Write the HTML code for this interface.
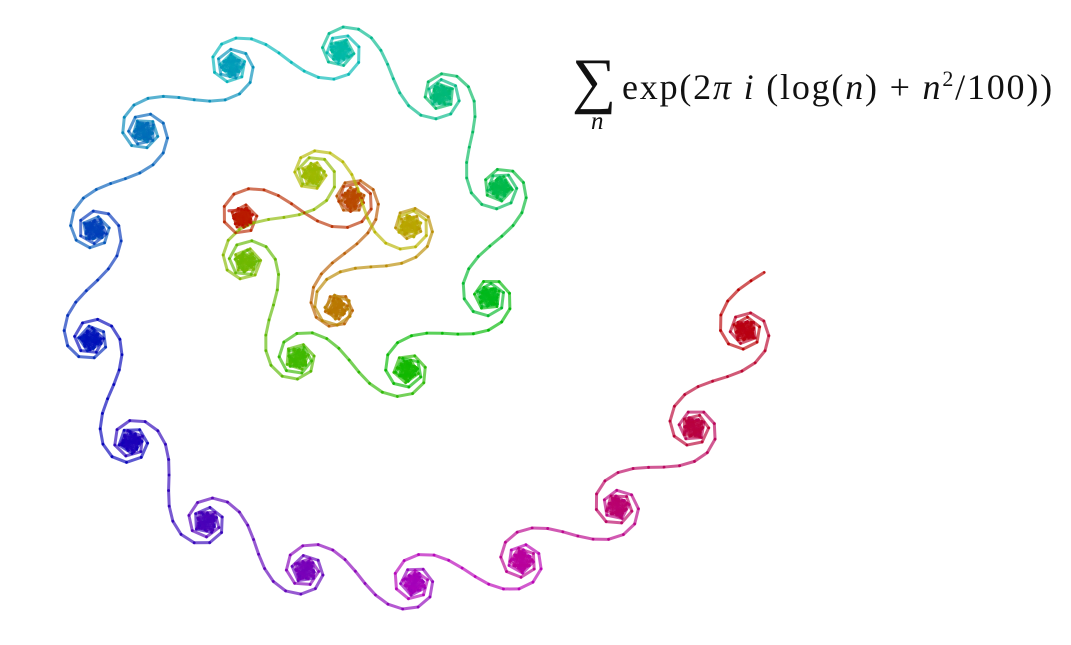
<!DOCTYPE html>
<html><head><meta charset="utf-8">
<style>
html,body{margin:0;padding:0;background:#fff;}
#wrap{position:relative;width:1071px;height:645px;overflow:hidden;}
#formula{position:absolute;left:572px;top:48px;font-family:"Liberation Serif",serif;color:#111;}
#sigma{position:absolute;left:0;top:2px;font-size:62px;line-height:62px;}
#sub{position:absolute;left:19px;top:60px;font-size:25px;font-style:italic;}
#expr{position:absolute;left:50px;top:18px;font-size:36px;letter-spacing:1.8px;white-space:nowrap;}
</style></head>
<body>
<div id="wrap">
<svg id="plot" width="1071" height="645"></svg>
<div id="formula">
 <span id="sigma">∑</span>
 <span id="sub">n</span>
 <span id="expr">exp(2<i>π</i> <i>i</i> (log(<i>n</i>) + <i>n</i><sup style="font-size:22px">2</sup>/100))</span>
</div>
</div>
<script>
// series definition: term count and phase coefficients (log term, quadratic term)
const termCount = [1200];
const logCoef = [1];
const quadCoef = [0.01];
// target region of the curve on screen
const xRange = [58, 775];
const yRange = [27, 609];

const N = termCount[0];
let re = 0, im = 0;
const pts = [[0,0]];
for (let n = 1; n <= N; n++) {
  const ph = 2*Math.PI*(logCoef[0]*Math.log(n) + quadCoef[0]*n*n);
  re += Math.cos(ph); im += Math.sin(ph);
  pts.push([re, im]);
}
const xs = pts.map(p=>p[0]), ys = pts.map(p=>p[1]);
const x0=Math.min(...xs), x1=Math.max(...xs), y0=Math.min(...ys), y1=Math.max(...ys);
const sc = Math.min((xRange[1]-xRange[0])/(x1-x0),(yRange[1]-yRange[0])/(y1-y0));
const cx = (xRange[0]+xRange[1])/2, cy=(yRange[0]+yRange[1])/2;
const mx=(x0+x1)/2, my=(y0+y1)/2;
function X(v){return cx+(v-mx)*sc;}
function Y(v){return cy-(v-my)*sc;}
function hsv(t){
  const h=(t%1)*6, i=Math.floor(h), f=h-i, v=0.72, q=v*(1-f), tt=v*f;
  const c=[[v,tt,0],[q,v,0],[0,v,tt],[0,q,v],[tt,0,v],[v,0,q]][i%6];
  return 'rgb('+c.map(a=>Math.round(a*255)).join(',')+')';
}
const svg=document.getElementById('plot');
const NS='http://www.w3.org/2000/svg';
for (let k=1;k<pts.length;k++){
  const l=document.createElementNS(NS,'line');
  l.setAttribute('x1',X(pts[k-1][0]));l.setAttribute('y1',Y(pts[k-1][1]));
  l.setAttribute('x2',X(pts[k][0]));l.setAttribute('y2',Y(pts[k][1]));
  l.setAttribute('stroke',hsv(k/N));l.setAttribute('stroke-width','3');
  l.setAttribute('stroke-opacity','0.65');l.setAttribute('stroke-linecap','round');
  
  
  svg.appendChild(l);
}
for (let k=1;k<pts.length;k++){
  const c=document.createElementNS(NS,'circle');
  c.setAttribute('cx',X(pts[k][0]));c.setAttribute('cy',Y(pts[k][1]));
  c.setAttribute('r','1.2');c.setAttribute('fill',hsv(k/N));c.setAttribute('fill-opacity','0.8');
  
  
  svg.appendChild(c);
}
</script>
</body></html>
